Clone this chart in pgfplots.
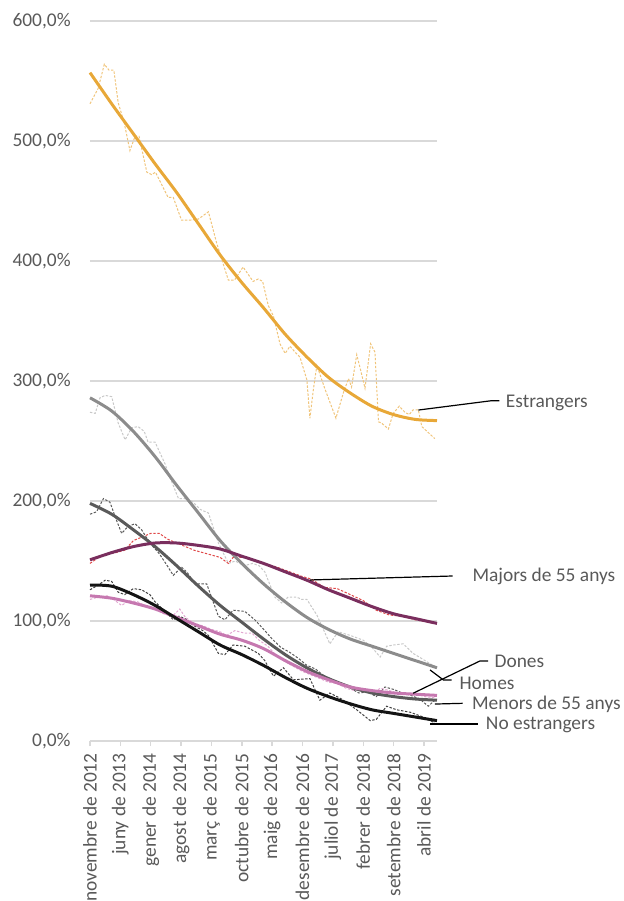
\documentclass[border=0pt]{standalone}
\usepackage{fontspec}
\setmainfont{Carlito}
\usepackage{pgfplots}
\pgfplotsset{compat=1.18}

\definecolor{gridgray}{HTML}{D9D9D9}
\definecolor{textgray}{HTML}{595959}
\definecolor{ocre}{HTML}{E8A838}
\definecolor{ocrelight}{HTML}{F0C47A}
\definecolor{midgray}{HTML}{8C8C8C}
\definecolor{lightgray}{HTML}{C8C8C8}
\definecolor{darkgray}{HTML}{5A5A5A}
\definecolor{plum}{HTML}{7A2E5E}
\definecolor{redd}{HTML}{E04848}
\definecolor{pink}{HTML}{C678B0}
\definecolor{pinklight}{HTML}{E2A8D2}
\definecolor{nearblack}{HTML}{141414}
\definecolor{blackdash}{HTML}{404040}

\pgfplotsset{
  monthly/.style={line width=0.5pt, dash pattern=on 1.2pt off 0.8pt},
  trend/.style={line width=1.5pt, smooth},
}

\begin{document}
\fontsize{9.7}{11.6}\selectfont
\begin{tikzpicture}
\path[use as bounding box] (-45pt,-80pt) rectangle (266.5pt,370.5pt);
\begin{axis}[
  at={(0,0)}, anchor=south west,
  scale only axis, width=173.5pt, height=360pt,
  xmin=0, xmax=80, ymin=0, ymax=600,
  clip=false,
  axis lines*=left,
  y axis line style={draw=none},
  x axis line style={draw=gridgray, line width=0.75pt},
  ytick={0,100,...,600},
  yticklabels={{0,0\%},{100,0\%},{200,0\%},{300,0\%},{400,0\%},{500,0\%},{600,0\%}},
  ytick style={draw=none},
  ymajorgrids,
  grid style={draw=gridgray, line width=0.75pt},
  xtick={0,7,...,77},
  xticklabels={novembre de 2012, juny de 2013, gener de 2014, agost de 2014,
    març de 2015, octubre de 2015, maig de 2016, desembre de 2016,
    juliol de 2017, febrer de 2018, setembre de 2018, abril de 2019},
  xtick style={draw=gridgray, line width=0.75pt},
  tick align=outside, major tick length=2.5pt,
  tick label style={text=textgray, font=\fontsize{9.7}{11.6}\selectfont},
  yticklabel style={anchor=east, inner sep=0pt, xshift=-7pt},
  xticklabel style={yshift=-3.5pt, rotate=90, anchor=east, inner sep=0pt},
]

% monthly series (dashed)
\addplot[monthly, ocrelight] coordinates {
(0,531) (1.9,544) (3.3,564) (4.4,559) (5.5,559) (6.5,532) (7.9,515) (9.2,492)
(10.4,504) (11.3,504) (13.1,474) (14.2,472) (15.1,474) (18,453) (19.2,453)
(21.1,434) (23,434) (25,435) (27.3,441) (29.2,415) (31.9,384) (33.3,384)
(35.3,395) (37.6,383) (38.8,385) (39.8,383) (41.1,363) (42.3,354) (43.8,331)
(45,323) (46.1,329) (47.3,324) (48.4,320) (50,301) (50.7,269) (51.5,293)
(52.3,313) (54.2,293) (56.7,269) (58.4,290) (59.6,302) (60.3,295) (61.5,322)
(62.6,306) (63.4,294) (64.7,331) (65.7,324) (66.5,266) (67.2,265) (68.8,260)
(69.9,273) (71.3,279) (72.6,274) (73.6,272) (74.5,276) (75.7,276) (76.5,262)
(79.5,252)};

\addplot[monthly, lightgray] coordinates {
(0,274) (1.2,273) (2.3,286) (3.5,288) (5,287) (6.5,265) (8.1,251) (9.6,261)
(11.1,262) (12.5,258) (13.4,249) (15,249) (17.3,231) (18.4,220) (20.4,202)
(21.9,202) (23.5,200) (25.4,193) (27.3,190) (29.6,165) (31.9,148) (33.5,150)
(35.5,146) (37.5,148) (39,146) (40.3,141) (42.6,120) (44.2,115) (45.7,120)
(47.6,120) (48.8,118) (50,118) (52.3,105) (55.3,81) (57.2,91) (60,88) (63,84)
(65,78) (66.9,70) (68.4,79) (70,80) (72.2,81) (74.5,73) (76.8,68) (79.5,62)};

\addplot[monthly, darkgray] coordinates {
(0,189) (1.5,191) (3.1,202) (4.6,199) (6.1,184) (7.3,173) (8.8,179) (10.4,181)
(11.9,176) (13.8,165) (16,156) (18,145) (19.2,138) (21.1,145) (22.5,140)
(24.2,131) (26.9,131) (28,120) (29.6,104) (31.1,101) (33,109) (35.7,108)
(38,101) (40.3,92) (42,85) (44,78) (46,74) (48,69) (50,63) (52,60) (54,54)
(56,51) (58,48) (60,44) (62,40) (64,41) (66,37) (68,45) (70,43) (72,40)
(74,38) (76,35) (78,29) (79.5,34)};

\addplot[monthly, redd] coordinates {
(0,148) (2,153) (4,156) (6,157) (8,159) (10,167) (12,170) (14,173) (16,173)
(18,168) (20,165) (22,162) (24,159) (26,157) (28,155) (30,153) (31.9,148)
(33,153) (36,153) (38,150) (40,148) (43,145) (46,141) (49,137) (51,135)
(54,128) (57,127) (60,122) (63,117) (66,109) (69,105) (72,104) (75,101)
(78,99) (79.5,98)};

\addplot[monthly, pinklight] coordinates {
(0,118) (2,120) (4,121) (5.5,118) (6.5,115) (7.3,113) (9,117) (11,116) (13,112)
(15,110) (17,106) (19,104) (20.7,110) (22,103) (24,98) (26,96) (28,93) (30,91)
(31.5,88) (33.4,92) (35.5,90) (37.3,90) (39,84) (41,79) (43,71) (45,66) (47,62)
(49,58) (51,55) (53,52) (55,49) (57,48) (59,44) (61,42) (63,43) (65,40) (67,44)
(69,42) (71,40) (73,39) (75,40) (77,37) (79.5,36)};

\addplot[monthly, blackdash] coordinates {
(0,126) (1.9,130) (3.5,134) (5,133) (6.5,124) (8,122) (10,127) (11.9,126)
(13.8,122) (15,116) (17.3,108) (19.2,101) (20.5,104) (21.9,102) (24,96) (26,92)
(27.3,88) (29.6,73) (31.1,72) (33,80) (35.7,79) (38.8,73) (40.3,67) (42.3,54)
(44.6,61) (46.9,51) (50.7,52) (53,34) (55.3,40) (58,35) (61.5,26) (64.6,17)
(66,18) (68.4,29) (70.7,26) (73.8,24) (76.8,20) (79.5,15)};

% trend lines
\addplot[trend, ocre] coordinates {
(0,557) (5,531) (10,506) (15,481) (20,457) (25,431) (30,405) (35,382) (40,361)
(45,339) (50,320) (55,303) (60,290) (65,279) (70,272) (75,268) (80,267)};
\addplot[trend, midgray] coordinates {
(0,286) (5,275) (10,258) (15,237) (20,213) (25,190) (30,167) (35,148) (40,131)
(45,116) (50,103) (55,93) (60,85) (65,79) (70,73) (75,67) (80,61)};
\addplot[trend, darkgray] coordinates {
(0,198) (5,189) (10,176) (15,162) (20,146) (25,129) (30,113) (35,99) (40,85)
(45,72) (50,61) (55,52) (60,45) (65,40) (70,37) (75,35) (80,34)};
\addplot[trend, plum] coordinates {
(0,151) (5,157) (10,162) (15,165) (20,165) (25,163) (30,160) (35,154) (40,148)
(45,141) (50,134) (55,126) (60,119) (65,112) (70,106) (75,102) (80,98)};
\addplot[trend, pink] coordinates {
(0,121) (5,119) (10,115) (15,110) (20,103) (25,96) (30,89) (35,84) (40,77)
(45,67) (50,58) (55,51) (60,45) (65,42) (70,40) (75,39) (80,38)};
\addplot[trend, nearblack] coordinates {
(0,130) (5,129) (10,122) (15,113) (20,102) (25,91) (30,80) (35,72) (40,63)
(45,53) (50,44) (55,37) (60,31) (65,26) (70,23) (75,20) (80,17)};

% labels with leader lines
\begin{scope}[line width=0.6pt, black]
\draw (axis cs:75.7,275.8) -- (axis cs:92.6,283.6) -- (axis cs:94.4,283.6);
\draw (axis cs:50.7,134.2) -- (axis cs:83.6,137.5);
\draw (axis cs:74.5,39.8) -- (axis cs:89.9,66.7) -- (axis cs:91.8,66.7);
\draw (axis cs:78.4,59.2) -- (axis cs:81.5,50.8) -- (axis cs:83.4,50.8);
\draw (axis cs:79.5,30.8) -- (axis cs:85.9,31.4);
\draw (axis cs:78.4,14.2) -- (axis cs:89.5,14.2);
\end{scope}
\begin{scope}[every node/.style={anchor=west, inner sep=0pt, text=textgray}]
\node at (axis cs:95.8,281.7) {Estrangers};
\node at (axis cs:88.1,137) {Majors de 55 anys};
\node at (axis cs:93.2,66) {Dones};
\node at (axis cs:85.1,48) {Homes};
\node at (axis cs:88,30.8) {Menors de 55 anys};
\node at (axis cs:91.2,13.3) {No estrangers};
\end{scope}
\end{axis}
\end{tikzpicture}
\end{document}
